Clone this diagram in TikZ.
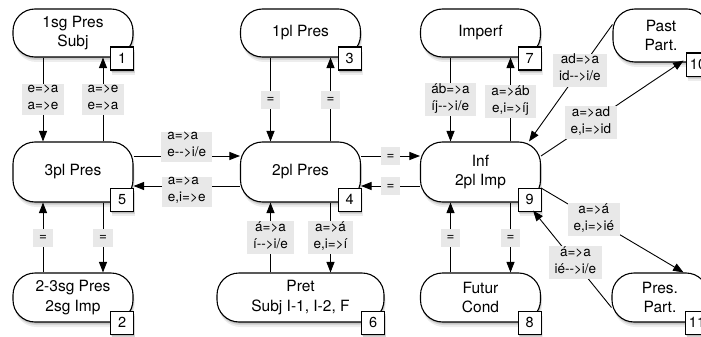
\documentclass[tikz,border=0pt]{standalone}
\usepackage{fontspec}
\setmainfont{TeX Gyre Heros}
\usetikzlibrary{arrows.meta,shadows,calc}
\definecolor{labgray}{RGB}{232,232,232}
\begin{document}
\begin{tikzpicture}[x=1pt,y=-1pt,
  shad/.style={
    general shadow={fill=black, opacity=0.07, shadow xshift=1.5pt, shadow yshift=-5pt},
    general shadow={fill=black, opacity=0.10, shadow xshift=1pt, shadow yshift=-3pt},
    general shadow={fill=black, opacity=0.12, shadow xshift=0.5pt, shadow yshift=-1.5pt}},
  st/.style={draw, line width=1.1pt, rounded corners=22pt, fill=white, inner sep=0pt,
    align=center, font=\fontsize{15.5}{19.5}\selectfont, minimum width=120pt, shad},
  num/.style={draw, line width=1.1pt, fill=white, minimum size=23pt, inner sep=0pt,
    font=\fontsize{14.5}{17}\selectfont, shad},
  lab/.style={fill=labgray, inner xsep=6pt, inner ysep=0.5pt,
    font=\fontsize{13.5}{17}\selectfont\strut, align=center},
  arr/.style={line width=0.9pt, -{Triangle[length=10.5pt,width=8pt]}}
]
\path[use as bounding box, clip] (0,0) rectangle (701,337);

% nodes
\node[st, minimum height=48pt] (n1) at (73,33) {1sg Pres\\Subj};
\node[st, minimum height=48pt] (n3) at (300.5,33) {1pl Pres};
\node[st, minimum height=48pt] (n7) at (480.5,33) {Imperf};
\node[st, minimum height=53pt, minimum width=96pt] (n10) at (661,35.5) {Past\\Part.};
\node[st, minimum height=60pt] (n5) at (73,172) {3pl Pres};
\node[st, minimum height=60pt] (n4) at (300.5,172) {2pl Pres};
\node[st, minimum height=60pt] (n9) at (480.5,172) {Inf\\2pl Imp};
\node[st, minimum height=49pt] (n2) at (73,297.5) {2-3sg Pres\\2sg Imp};
\node[st, minimum height=49pt, minimum width=167pt] (n6) at (300.5,297.5) {Pret\\Subj I-1, I-2, F};
\node[st, minimum height=49pt] (n8) at (480.5,297.5) {Futur\\Cond};
\node[st, minimum height=49pt, minimum width=96pt] (n11) at (660,297.5) {Pres.\\Part.};

% number boxes
\node[num] (b1) at ([xshift=-11.5pt,yshift=-1pt]n1.south east) {1};
\node[num] (b3) at ([xshift=-11.5pt,yshift=-1pt]n3.south east) {3};
\node[num] (b7) at ([xshift=-11.5pt,yshift=-1pt]n7.south east) {7};
\node[num] (b10) at ([xshift=-11.5pt,yshift=-2pt]n10.south east) {10};
\node[num] (b5) at ([xshift=-11.5pt,yshift=3pt]n5.south east) {5};
\node[num] (b4) at ([xshift=-11.5pt,yshift=3pt]n4.south east) {4};
\node[num] (b9) at ([xshift=-11.5pt,yshift=3pt]n9.south east) {9};
\node[num] (b2) at ([xshift=-11.5pt,yshift=0pt]n2.south east) {2};
\node[num] (b6) at ([xshift=-11.5pt,yshift=0pt]n6.south east) {6};
\node[num] (b8) at ([xshift=-11.5pt,yshift=0pt]n8.south east) {8};
\node[num] (b11) at ([xshift=-11.5pt,yshift=0pt]n11.south east) {11};

% left column
\draw[arr] ([xshift=-30pt]n1.south) -- node[lab]{e=>a\\a=>e} ([xshift=-30pt]n5.north);
\draw[arr] ([xshift=30pt]n5.north) -- node[lab]{a=>e\\e=>a} ([xshift=30pt]n1.south);
\draw[arr] ([xshift=30pt]n5.south) -- node[lab]{=} ([xshift=30pt]n2.north);
\draw[arr] ([xshift=-30pt]n2.north) -- node[lab]{=} ([xshift=-30pt]n5.south);

% middle column
\draw[arr] ([xshift=-30pt]n3.south) -- node[lab]{=} ([xshift=-30pt]n4.north);
\draw[arr] ([xshift=30pt]n4.north) -- node[lab]{=} ([xshift=30pt]n3.south);
\draw[arr] ([xshift=30pt]n4.south) -- node[lab]{a=>á\\e,i=>í} ([xshift=30pt]n6.north);
\draw[arr] ([xshift=-30pt]n6.north) -- node[lab]{á=>a\\í-{}->i/e} ([xshift=-30pt]n4.south);

% right column
\draw[arr] ([xshift=-30pt]n7.south) -- node[lab, align=left]{áb=>a\\íj-{}->i/e} ([xshift=-30pt]n9.north);
\draw[arr] ([xshift=30pt]n9.north) -- node[lab, yshift=-2pt]{a=>áb\\e,i=>íj} ([xshift=30pt]n7.south);
\draw[arr] ([xshift=30pt]n9.south) -- node[lab]{=} ([xshift=30pt]n8.north);
\draw[arr] ([xshift=-30pt]n8.north) -- node[lab]{=} ([xshift=-30pt]n9.south);

% horizontals
\draw[arr] ([yshift=16pt]n5.east) -- node[lab, yshift=9pt, align=left]{a=>a\\e-{}->i/e} ([yshift=16pt]n4.west);
\draw[arr] ([yshift=-14pt]n4.west) -- node[lab, yshift=-6pt, align=left]{a=>a\\e,i=>e} ([yshift=-14pt]n5.east);
\draw[arr] ([yshift=16pt]n4.east) -- node[lab]{=} ([yshift=16pt]n9.west);
\draw[arr] ([yshift=-14pt]n9.west) -- node[lab]{=} ([yshift=-14pt]n4.east);

% diagonals
\draw[arr] ([yshift=11pt]n10.west) -- node[lab, pos=0.39]{ad=>a\\id-{}->i/e} ([xshift=-12pt]n9.north east);
\draw[arr] ([yshift=16pt]n9.east) -- node[lab, pos=0.35]{a=>ad\\e,i=>id} ([xshift=-26pt,yshift=2pt]n10.south east);
\draw[arr] ([yshift=-16pt]n9.east) -- node[lab, pos=0.37]{a=>á\\e,i=>ié} ([xshift=-25pt]n11.north east);
\draw[arr] ([yshift=-10pt]n11.west) -- node[lab, pos=0.46]{á=>a\\ié-{}->i/e} ([xshift=-8pt,yshift=-8pt]n9.south east);
\end{tikzpicture}
\end{document}
